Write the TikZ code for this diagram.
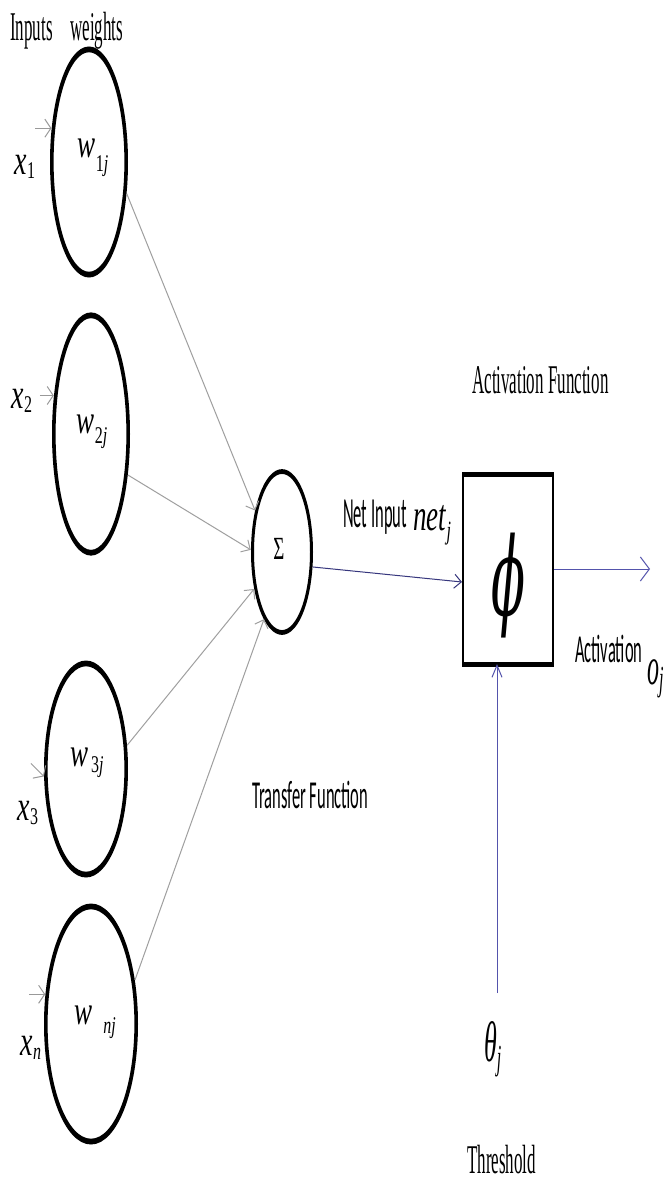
\documentclass[tikz,border=0pt]{standalone}
\usepackage{fontspec}
\setmainfont{Liberation Serif}
\newfontfamily\calib{Carlito}
\newfontfamily\dvserif{DejaVu Serif}
\usetikzlibrary{shapes.geometric,arrows.meta,calc}
\newcommand{\tallt}[1]{\scalebox{1}[2.4]{#1}}
\newcommand{\mth}[2]{\scalebox{1}[#1]{#2}}
\newcommand{\sbs}[2][-7pt]{\raisebox{#1}{\fontsize{16}{16}\selectfont #2}}
\begin{document}
\begin{tikzpicture}[x=1pt,y=-1pt,
  wnode/.style={ellipse,inner sep=0pt},
  lbl/.style={inner sep=0pt,anchor=base west},
  conn/.style={draw=gray!75,line width=1pt,-{Straight Barb[length=7pt,width=14pt]}},
  inarr/.style={draw=gray!80,line width=1pt,-{Straight Barb[length=6pt,width=18pt]}},
  outarr/.style={draw=blue!35!gray,line width=1pt,-{Straight Barb[length=9pt,width=24pt]}},
  thrarr/.style={draw=blue!35!gray,line width=1pt,-{Straight Barb[length=12pt,width=10pt]}},
  sertext/.style={font=\fontsize{17}{17}\selectfont},
  santext/.style={font=\calib\fontsize{16.5}{16.5}\selectfont}]
\useasboundingbox[fill=white] (0,0) rectangle (665,1183);

% header labels
\node[lbl,sertext] (inputs) at (10,40) {\tallt{Inputs}};
\node[lbl,sertext] (weights) at (70,40) {\tallt{weights}};

% weight ellipses (named nodes for anchors)
\node[wnode,minimum width=78pt,minimum height=232pt] (e1) at (89,162) {};
\node[wnode,minimum width=78pt,minimum height=244pt] (e2) at (91,434) {};
\node[wnode,minimum width=84pt,minimum height=218pt] (e3) at (86,769) {};
\node[wnode,minimum width=94pt,minimum height=242pt] (e4) at (91,1024) {};
% their outlines, thicker at top and bottom
\draw[line width=3.6pt,transform canvas={shift={(e1.center)},yscale=1.6}] (0,0) ellipse [x radius=37.2, y radius=70.4];
\draw[line width=3.6pt,transform canvas={shift={(e2.center)},yscale=1.6}] (0,0) ellipse [x radius=37.2, y radius=74.2];
\draw[line width=3.6pt,transform canvas={shift={(e3.center)},yscale=1.6}] (0,0) ellipse [x radius=40.2, y radius=66.0];
\draw[line width=3.6pt,transform canvas={shift={(e4.center)},yscale=1.6}] (0,0) ellipse [x radius=45.2, y radius=73.5];

% weight labels
\node[inner sep=0pt] (w1) at (93,158) {\mth{1.5}{\fontsize{27}{27}\selectfont\textit{w}\sbs[-9pt]{1\textit{j}}}};
\node[inner sep=0pt] (w2) at (92,432) {\mth{1.5}{\fontsize{27}{27}\selectfont\textit{w}\sbs{2\textit{j}}}};
\node[inner sep=0pt] (w3) at (87,763) {\mth{1.5}{\fontsize{27}{27}\selectfont\textit{w}\sbs[-4pt]{\,3\textit{j}}}};
\node[inner sep=0pt] (w4) at (95,1022) {\mth{1.5}{\fontsize{27}{27}\selectfont\textit{w}\hspace{11pt}\sbs[-6pt]{\textit{nj}}}};

% input labels
\node[inner sep=0pt] (x1) at (25,167) {\mth{1.5}{\fontsize{28}{28}\selectfont\textit{x}\sbs[-3pt]{1}}};
\node[inner sep=0pt] (x2) at (22,401) {\mth{1.5}{\fontsize{28}{28}\selectfont\textit{x}\sbs[-3pt]{2}}};
\node[inner sep=0pt] (x3) at (28,813) {\mth{1.5}{\fontsize{28}{28}\selectfont\textit{x}\sbs[-3pt]{3}}};
\node[inner sep=0pt] (xn) at (31,1048) {\mth{1.5}{\fontsize{28}{28}\selectfont\textit{x}\sbs[-3pt]{\textit{n}}}};

% input arrows
\draw[inarr] ($(e1.138)+(-16,0)$) -- (e1.138);
\draw[inarr] ($(e2.134)+(-14,0)$) -- (e2.134);
\draw[inarr] ($(e3.-170)+(-13,-13)$) -- (e3.-170);
\draw[inarr] ($(e4.147)+(-16,0)$) -- (e4.147);

% summation node
\node[ellipse,inner sep=0pt,minimum width=62pt,minimum height=164pt] (sig) at (282,552) {};
\draw[line width=3pt,transform canvas={shift={(sig.center)},yscale=1.6}] (0,0) ellipse [x radius=29.5, y radius=50.3];
\node[inner sep=0pt] (sigma) at (279,549) {\mth{1.7}{\fontsize{19}{19}\selectfont Σ}};

% connectors to summation
\draw[conn] (e1.-40) -- (sig.123);
\draw[conn] (e2.-48) -- (sig.176);
\draw[conn] (e3.30) -- (sig.-127);
\draw[conn] (e4.45) -- (sig.-105);

% activation box
\node[draw,line width=2pt,inner sep=0pt,minimum width=90pt,minimum height=188pt] (phi) at (508,569) {};
\draw[line width=5pt] (phi.north west) -- (phi.north east);
\draw[line width=5pt] (phi.south west) -- (phi.south east);
\node[inner sep=0pt] (phisym) at (508,586) {\resizebox*{34pt}{105pt}{\dvserif\itshape ϕ}};

\node[lbl,sertext] (actf) at (472,393) {\tallt{Activation Function}};

% net input
\draw[conn,draw=gray!60!blue!70!black] (sig.-26) -- ($(phi.west)+(0,13)$);
\node[lbl,santext] (netin) at (343,527) {\scalebox{1}[2.6]{Net Input}};
\node[lbl,inner sep=0pt] (netj) at (413,530) {\mth{1.65}{\fontsize{27}{27}\selectfont\textit{net}\sbs[-6pt]{\textit{j}}}};

\node[lbl,santext] (transf) at (252,808) {\tallt{Transfer Function}};

% output
\coordinate (outend) at (650,569);
\draw[outarr] (phi.east) -- (outend);
\node[lbl,santext] (act) at (575,662) {\tallt{Activation}};
\node[lbl,inner sep=0pt] (oj) at (647,684) {\mth{2.2}{\fontsize{24}{24}\selectfont\textit{o}\sbs[-3pt]{\textit{j}}}};

% threshold
\coordinate (thr) at (497,993);
\draw[thrarr] (thr) -- (thr |- phi.south);
\node[lbl,inner sep=0pt] (theta) at (484,1061) {\mth{2.2}{\fontsize{26}{26}\selectfont\textit{θ}\sbs[-4pt]{\textit{j}}}};
\node[lbl,sertext] (thresh) at (467,1173) {\tallt{Threshold}};
\end{tikzpicture}
\end{document}
